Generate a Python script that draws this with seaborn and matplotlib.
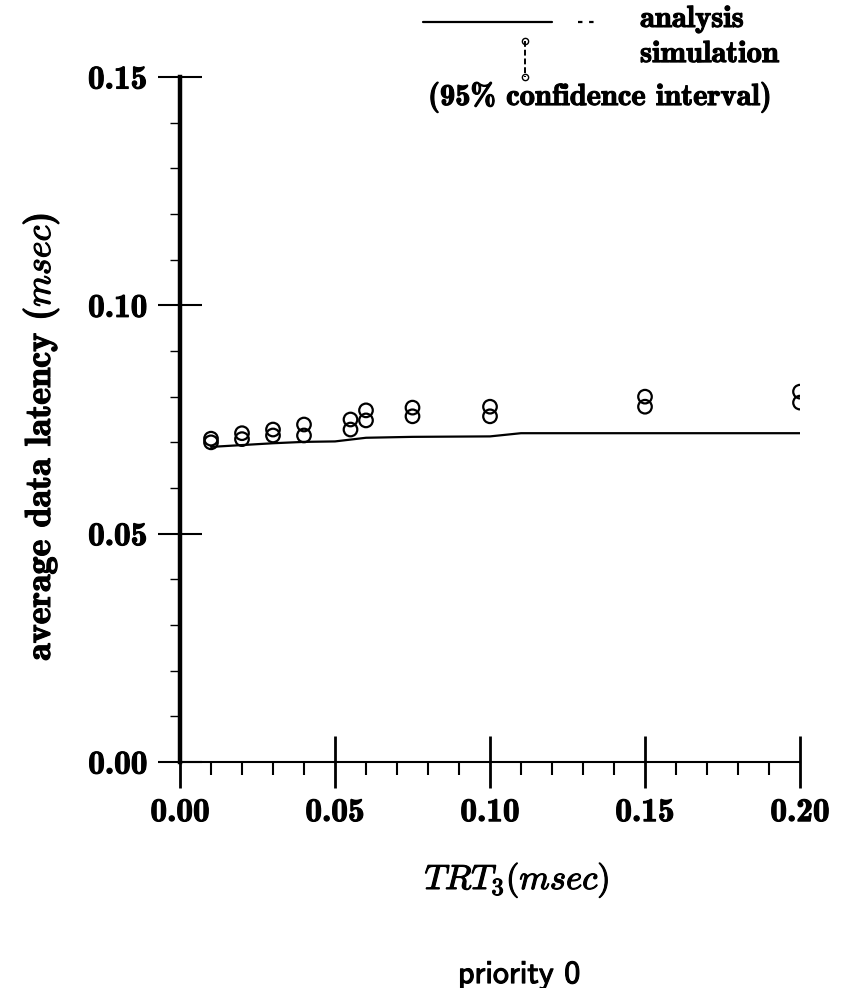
import matplotlib
matplotlib.use('Agg')
import matplotlib.pyplot as plt
import matplotlib.patheffects as pe
from matplotlib.lines import Line2D
from matplotlib.ticker import FixedLocator, MultipleLocator, FormatStrFormatter
import seaborn as sns

# ---- data ----
trt = [0.01, 0.02, 0.03, 0.04, 0.055, 0.06, 0.075, 0.10, 0.15, 0.20]
sim_low = [0.0700, 0.0707, 0.0715, 0.0715, 0.0728, 0.0748, 0.0757, 0.0757, 0.0778, 0.0787]
sim_high = [0.0708, 0.0720, 0.0728, 0.0739, 0.0750, 0.0770, 0.0776, 0.0778, 0.0800, 0.0811]
ana_x = [0.01, 0.02, 0.03, 0.04, 0.05, 0.06, 0.075, 0.10, 0.11, 0.15, 0.20]
ana_y = [0.0690, 0.0694, 0.0698, 0.0701, 0.0702, 0.0710, 0.0712, 0.0713, 0.0720, 0.0720, 0.0720]
xticks = [0.00, 0.05, 0.10, 0.15, 0.20]
yticks = [0.00, 0.05, 0.10, 0.15]

sns.set_theme(style='white')
plt.rcParams['font.family'] = ['cmb10', 'DejaVu Serif']
plt.rcParams['mathtext.fontset'] = 'cm'
plt.rcParams['axes.unicode_minus'] = False
plt.rcParams['axes.formatter.use_mathtext'] = True

stroke = [pe.withStroke(linewidth=0.8, foreground='black')]

fig = plt.figure(figsize=(8.41, 9.88), dpi=100)
fig.patch.set_facecolor('white')
ax = fig.add_axes([180 / 841, 1 - 762 / 988, 620 / 841, 685 / 988])
ax.set_facecolor('white')

sns.lineplot(x=ana_x, y=ana_y, ax=ax, color='black', linewidth=1.6,
             estimator=None, sort=False)
for vals in (sim_low, sim_high):
    sns.scatterplot(x=trt, y=vals, ax=ax, marker='o', s=95,
                    facecolor='none', edgecolor='black', linewidth=1.6)

ax.set_xlim(0, 0.20)
ax.set_ylim(0, 0.15)

for side in ('top', 'right'):
    ax.spines[side].set_visible(False)
ax.spines['left'].set_linewidth(3.2)
ax.spines['bottom'].set_linewidth(1.5)
for side in ('left', 'bottom'):
    ax.spines[side].set_color('black')

ax.xaxis.set_major_locator(FixedLocator(xticks))
ax.xaxis.set_minor_locator(MultipleLocator(0.01))
ax.yaxis.set_major_locator(FixedLocator(yticks))
ax.yaxis.set_minor_locator(MultipleLocator(0.01))
ax.xaxis.set_major_formatter(FormatStrFormatter('%.2f'))
ax.yaxis.set_major_formatter(FormatStrFormatter('%.2f'))

ax.tick_params(axis='x', which='major', direction='inout', length=38, width=2,
               pad=7, labelsize=24, color='black', labelcolor='black')
ax.tick_params(axis='x', which='minor', direction='out', length=9.5, width=1.5,
               color='black')
ax.tick_params(axis='y', which='major', direction='inout', length=31, width=1.5,
               pad=8, labelsize=24, color='black', labelcolor='black')
ax.tick_params(axis='y', which='minor', direction='out', length=7, width=1,
               color='black')
ax.tick_params(which='both', bottom=True, left=True)

for lbl in ax.get_xticklabels() + ax.get_yticklabels():
    lbl.set_path_effects(stroke)

ax.set_ylabel('average data latency ($msec$)', fontsize=26, color='black')
ax.yaxis.set_label_coords(-0.192, 0.4745)
ax.set_xlabel('$TRT_3(msec)$', fontsize=25, color='black')
ax.xaxis.set_label_coords(0.5435, -0.143)
ax.yaxis.label.set_path_effects(stroke)
ax.xaxis.label.set_path_effects(stroke)

# ---- legend (drawn in figure coordinates) ----
fig.add_artist(Line2D([0.503, 0.656], [0.9777, 0.9777], transform=fig.transFigure,
                      color='black', linewidth=1.6))
fig.add_artist(Line2D([0.687, 0.713], [0.9777, 0.9777], transform=fig.transFigure,
                      color='black', linewidth=1.6, linestyle=(0, (2, 3))))
fig.add_artist(Line2D([0.624, 0.624], [0.9585, 0.9221], transform=fig.transFigure,
                      color='black', linewidth=1.4, linestyle=(0, (3, 1.5)),
                      marker='o', markersize=4.5, markerfacecolor='none',
                      markeredgewidth=1.0))

t1 = fig.text(0.761, 0.9727, 'analysis', fontsize=22, va='baseline', ha='left',
              color='black')
t2 = fig.text(0.761, 0.9372, 'simulation', fontsize=22, va='baseline', ha='left',
              color='black')
t3 = fig.text(0.509, 0.8937, '(95% confidence interval)', fontsize=22,
              va='baseline', ha='left', color='black')
t4 = fig.text(0.617, 0.0283, 'priority 0', fontsize=23, va='top', ha='center',
              family=['cmss10', 'DejaVu Sans'], color='black')
for t in (t1, t2, t3, t4):
    t.set_path_effects(stroke)

fig.savefig('out.png', dpi=100, facecolor='white')
